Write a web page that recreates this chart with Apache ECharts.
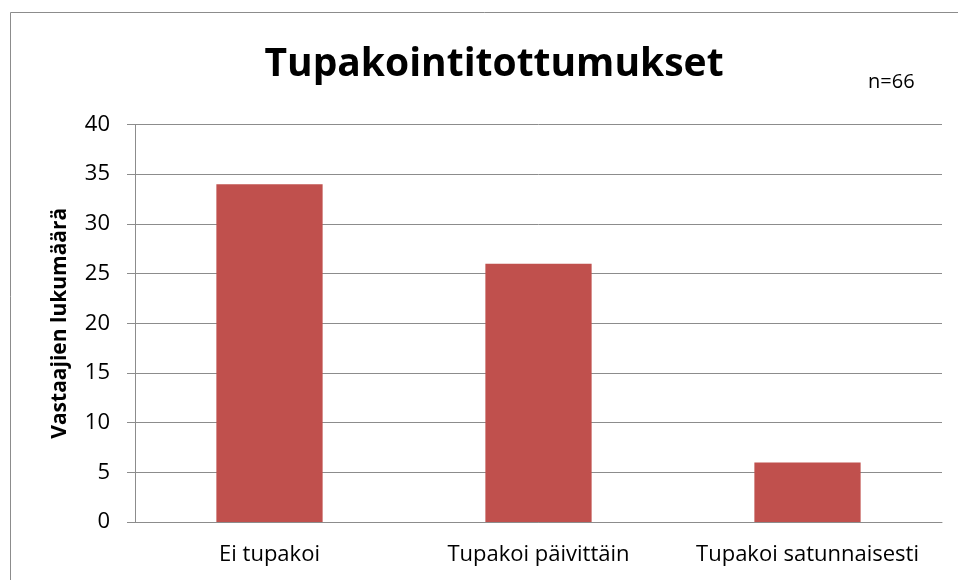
<!DOCTYPE html>
<html><head><meta charset="utf-8">
<script src="https://cdn.jsdelivr.net/npm/echarts@6/dist/echarts.min.js"></script>
<style>html,body{margin:0;padding:0;background:#fff}#c{width:958px;height:580px}</style>
</head><body><div id="c"></div>
<script>
const categories = ["Ei tupakoi", "Tupakoi päivittäin", "Tupakoi satunnaisesti"];
const values = [34, 26, 6];
const yTicks = {min: 0, max: 40, interval: 5};
const titleText = "Tupakointitottumukset";
const noteText = "n=66";
const yName = "Vastaajien lukumäärä";

const chart = echarts.init(document.getElementById('c'), null, {renderer: 'canvas'});
const font = '"Open Sans", "Noto Sans", sans-serif';
chart.setOption({
  animation: false,
  backgroundColor: '#fff',
  title: {
    text: titleText, left: 489, top: 40, textAlign: 'center',
    textStyle: {fontFamily: font, fontWeight: 'bold', fontSize: 39, color: '#000'}
  },
  graphic: [
    {type: 'rect', shape: {x: 10.5, y: 12.5, width: 1000, height: 700},
     style: {fill: 'none', stroke: '#8c8c8c', lineWidth: 1}, silent: true},
    {type: 'text', left: 868, top: 72,
     style: {text: noteText, fontFamily: font, fontSize: 20, fill: '#000'}}
  ],
  grid: {left: 135, right: 16, top: 124.5, bottom: 58, containLabel: false},
  xAxis: {
    type: 'category', data: categories,
    axisLine: {lineStyle: {color: '#8c8c8c', width: 1}},
    axisTick: {show: false},
    axisLabel: {fontFamily: font, fontSize: 22, color: '#000', margin: 22,
                interval: 0, hideOverlap: false}
  },
  yAxis: {
    type: 'value', min: yTicks.min, max: yTicks.max, interval: yTicks.interval,
    name: yName, nameLocation: 'middle', nameGap: 64, nameRotate: 90,
    nameTextStyle: {fontFamily: font, fontWeight: 'bold', fontSize: 21, color: '#000'},
    axisLine: {show: true, lineStyle: {color: '#8c8c8c', width: 1}},
    axisTick: {show: true, inside: false, length: 8, lineStyle: {color: '#8c8c8c'}},
    splitLine: {lineStyle: {color: '#8c8c8c', width: 1}},
    axisLabel: {fontFamily: font, fontSize: 22, color: '#000', margin: 25}
  },
  series: [{
    type: 'bar', data: values, barWidth: '39.5%',
    itemStyle: {color: '#C0504D'}
  }]
});
</script></body></html>
